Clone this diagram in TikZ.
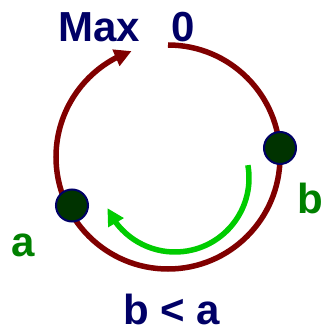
\documentclass[tikz,border=0pt]{standalone}
\usepackage{fontspec}
\setmainfont{Liberation Sans}
\usetikzlibrary{arrows.meta,bending}

\definecolor{wrapred}{RGB}{128, 0, 0}
\definecolor{wrapnavy}{RGB}{0, 0, 102}
\definecolor{wrapgreen}{RGB}{0, 128, 0}
\definecolor{wraplime}{RGB}{0, 204, 0}
\definecolor{wrapdot}{RGB}{0, 51, 0}

\begin{document}
\begin{tikzpicture}[x=1pt, y=1pt,
    bigtext/.style={font=\fontsize{42}{50}\selectfont\bfseries, inner sep=0pt, anchor=base},
    pointdot/.style={circle, fill=wrapdot, draw=wrapnavy, line width=2pt, minimum size=32pt, inner sep=0pt}]
  \useasboundingbox (-168,-177) rectangle (155,157);
  % counter ring, 0 at the top, wraps round to Max
  \draw[wrapred, line width=5.5pt, -{Triangle[length=17pt, width=17pt]}]
    (90:112) arc[start angle=90, end angle=-251, radius=112pt];
  % going from b back to a
  \draw[wraplime, line width=5.5pt, -{Triangle[length=17pt, width=17pt]}]
    (7,-21) ++(10:74) arc[start angle=10, end angle=-156, radius=74pt];
  \node[pointdot] (b) at (112,9) {};
  \node[pointdot] (a) at (-96,-48.5) {};
  \node[bigtext, wrapnavy] (max) at (-68.5,115.3) {Max};
  \node[bigtext, wrapnavy] (zero) at (14.7,115.3) {0};
  \node[bigtext, wrapgreen] (alabel) at (-145,-99) {a};
  \node[bigtext, wrapgreen] (blabel) at (142.5,-56.3) {b};
  \node[bigtext, wrapnavy] (order) at (3.7,-167.5) {b < a};
\end{tikzpicture}
\end{document}
